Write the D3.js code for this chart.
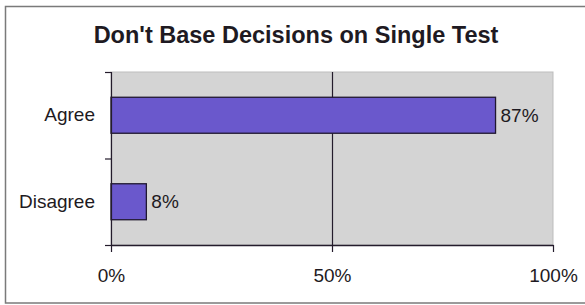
<!DOCTYPE html>
<html><head><meta charset="utf-8">
<script src="https://cdn.jsdelivr.net/npm/d3@7"></script>
<style>
html,body{margin:0;padding:0;background:#fff;}
svg{display:block;}
text{font-family:"Liberation Sans",Arial,sans-serif;fill:#1e1a22;}
</style></head>
<body>
<svg id="c" width="585" height="305"></svg>
<script>
const title = "Don't Base Decisions on Single Test";
const categories = ["Agree", "Disagree"];
const values = [87, 8];
const xTickValues = [0, 50, 100];

(function () {
const svg = d3.select("#c");
const pL = 111, pR = 553, pT = 72, pB = 245;
const fs = "19px";

// outer frame
svg.append("rect").attr("x", 5.5).attr("y", 6.5).attr("width", 600).attr("height", 296.5)
  .attr("fill", "none").attr("stroke", "#7a7a7a").attr("stroke-width", 1.5);

// title
svg.append("text").attr("x", 296).attr("y", 43).attr("text-anchor", "middle")
  .style("font-size", "23.5px").style("font-weight", "bold").text(title);

const x = d3.scaleLinear().domain([0, 100]).range([pL, pR]);
const y = d3.scaleBand().domain(categories).range([pT, pB]).paddingInner(0.584).paddingOuter(0.292);

// plot area
svg.append("rect").attr("x", pL).attr("y", pT).attr("width", pR - pL).attr("height", pB - pT)
  .attr("fill", "#d4d4d4").attr("stroke", "#bdbdbd").attr("stroke-width", 1);

// gridline at 50%
svg.append("line").attr("x1", x(50) + 0.5).attr("x2", x(50) + 0.5).attr("y1", pT).attr("y2", pB)
  .attr("stroke", "#241c2c").attr("stroke-width", 1.2);

// bars
svg.selectAll("rect.bar").data(categories).enter().append("rect").attr("class", "bar")
  .attr("x", x(0)).attr("y", d => y(d))
  .attr("width", (d, i) => x(values[i]) - x(0)).attr("height", y.bandwidth())
  .attr("fill", "#6a58cc").attr("stroke", "#201830").attr("stroke-width", 1.3);

// value labels
svg.selectAll("text.val").data(categories).enter().append("text").attr("class", "val")
  .attr("x", (d, i) => x(values[i]) + 5).attr("y", d => y(d) + y.bandwidth() / 2)
  .attr("dy", "0.35em").style("font-size", fs)
  .text((d, i) => values[i] + "%");

// left axis (labels)
const yAxis = svg.append("g").attr("transform", `translate(${pL},0)`)
  .call(d3.axisLeft(y).tickSize(0).tickPadding(16));
yAxis.select(".domain").remove();
yAxis.selectAll("text").style("font-size", fs).style("font-family", "'Liberation Sans',Arial,sans-serif").attr("fill", "#1e1a22");
// left axis line + boundary ticks
svg.append("line").attr("x1", pL + 0.5).attr("x2", pL + 0.5).attr("y1", pT).attr("y2", pB)
  .attr("stroke", "#241c2c").attr("stroke-width", 1.2);
const bounds = [pT, (y(categories[0]) + y.bandwidth() + y(categories[1])) / 2, pB];
svg.selectAll("line.yt").data(bounds).enter().append("line").attr("class", "yt")
  .attr("x1", pL - 6).attr("x2", pL).attr("y1", d => d + 0.5).attr("y2", d => d + 0.5)
  .attr("stroke", "#241c2c").attr("stroke-width", 1.2);

// bottom axis
const xAxis = svg.append("g").attr("transform", `translate(0,${pB})`)
  .call(d3.axisBottom(x).tickValues(xTickValues).tickFormat(d => d + "%").tickSize(7).tickSizeOuter(0).tickPadding(17));
xAxis.select(".domain").attr("stroke", "#241c2c").attr("stroke-width", 1.5);
xAxis.selectAll(".tick line").attr("stroke", "#241c2c").attr("stroke-width", 1.2);
xAxis.selectAll("text").style("font-size", fs).style("font-family", "'Liberation Sans',Arial,sans-serif").attr("fill", "#1e1a22");
})();
</script>
</body></html>
